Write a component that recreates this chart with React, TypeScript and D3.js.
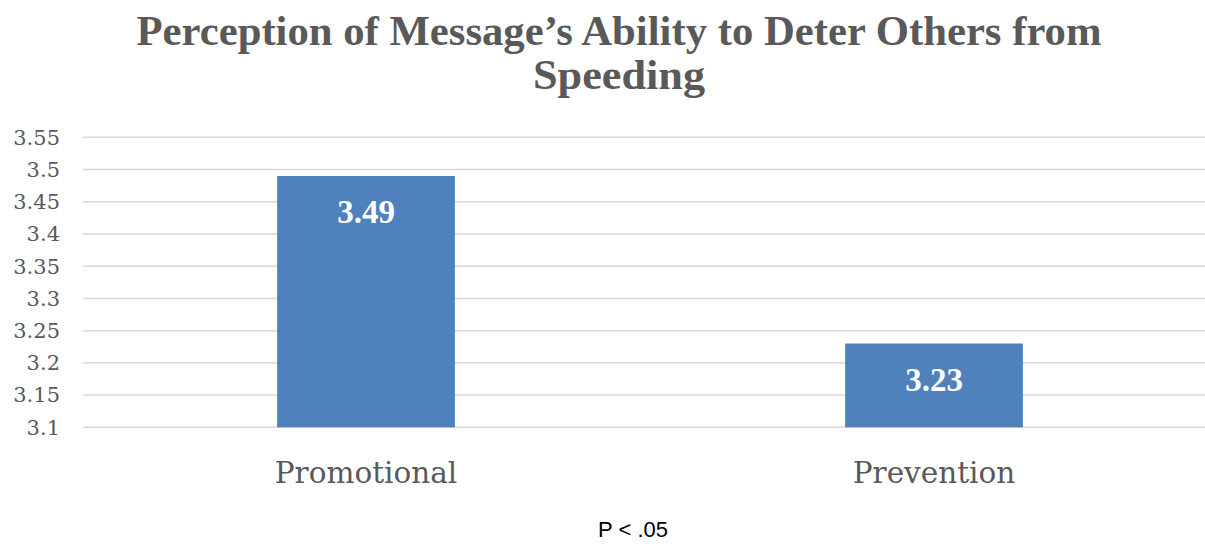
import React from "react";
import * as d3 from "d3";

const categories = ["Promotional", "Prevention"];
const values = [3.49, 3.23];
const valueLabels = ["3.49", "3.23"];
const yTicks = [3.1, 3.15, 3.2, 3.25, 3.3, 3.35, 3.4, 3.45, 3.5, 3.55];
const tickLabels = ["3.1", "3.15", "3.2", "3.25", "3.3", "3.35", "3.4", "3.45", "3.5", "3.55"];
const titleLines = ["Perception of Message\u2019s Ability to Deter Others from", "Speeding"];
const footnote = "P < .05";

const W = 1205;
const H = 544;

export default function App() {
  const y = d3.scaleLinear().domain([3.1, 3.55]).range([427.3, 137.3]);
  const x = d3.scaleBand<string>().domain(categories).range([82, 1218]).paddingInner(0.687).paddingOuter(0.3435);
  const grey = "#595959";
  return (
    <svg width={W} height={H} style={{ position: "absolute", left: 0, top: 0, background: "#fff" }}>
      <rect x={0} y={0} width={W} height={H} fill="#fff" />
      <text x={619} y={45} textAnchor="middle" fontFamily="Liberation Serif" fontWeight="bold" fontSize={42} fill={grey} textLength={965} lengthAdjust="spacingAndGlyphs">{titleLines[0]}</text>
      <text x={619} y={89} textAnchor="middle" fontFamily="Liberation Serif" fontWeight="bold" fontSize={42} fill={grey} textLength={172} lengthAdjust="spacingAndGlyphs">{titleLines[1]}</text>
      {yTicks.map((t, i) => (
        <g key={t}>
          <line x1={83} x2={W} y1={y(t)} y2={y(t)} stroke="#d9d9d9" strokeWidth={1.5} />
          <text x={60} y={y(t)} dy="0.35em" textAnchor="end" fontFamily="DejaVu Serif" fontSize={21} fill={grey}>{tickLabels[i]}</text>
        </g>
      ))}
      {categories.map((c, i) => {
        const bx = x(c)!;
        const bw = x.bandwidth();
        return (
          <g key={c}>
            <rect x={bx} y={y(values[i])} width={bw} height={y(3.1) - y(values[i])} fill="#4f81bd" />
            <text x={bx + bw / 2} y={y(values[i]) + 47} textAnchor="middle" fontFamily="Liberation Serif" fontWeight="bold" fontSize={33} fill="#fff">{valueLabels[i]}</text>
            <text x={bx + bw / 2} y={483} textAnchor="middle" fontFamily="DejaVu Serif" fontSize={29.5} fill={grey}>{c}</text>
          </g>
        );
      })}
      <text x={633} y={537} textAnchor="middle" fontFamily="Liberation Sans" fontSize={22} fill="#000">{footnote}</text>
    </svg>
  );
}
